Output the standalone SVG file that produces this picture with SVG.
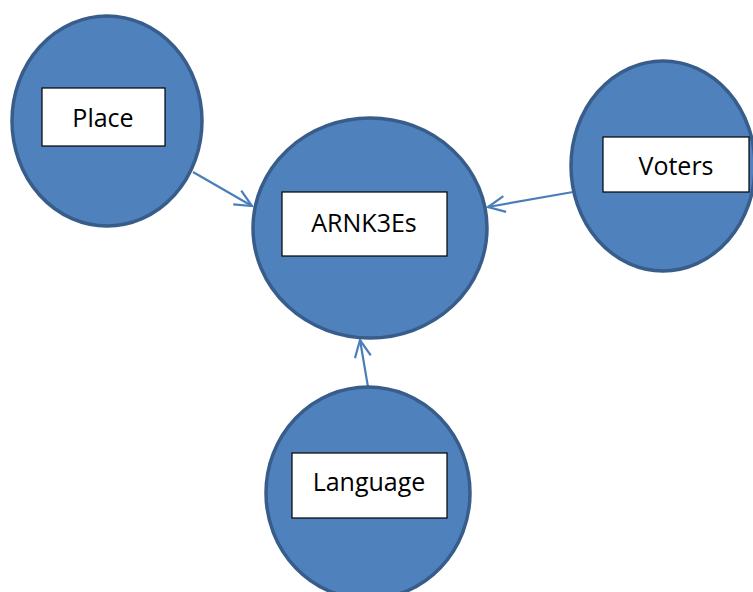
<svg xmlns="http://www.w3.org/2000/svg" width="753" height="592" viewBox="0 0 753 592">
<style>
.node ellipse{fill:#4F81BD;stroke:#385D8A;stroke-width:3.5}
.node rect{fill:#FFFFFF;stroke:#000000;stroke-width:1.2}
.node text{font-family:"Open Sans","Liberation Sans",sans-serif;font-size:25px;fill:#000000;text-anchor:middle}
.edge{stroke:#4A7EBB;stroke-width:2.2;fill:none}
</style>
<defs>
<marker id="arr" markerUnits="userSpaceOnUse" markerWidth="22" markerHeight="22" refX="18" refY="9" orient="auto" viewBox="0 0 22 18">
<path d="M1,1 L18,9 L1,17" fill="none" stroke="#4A7EBB" stroke-width="2.2"/>
</marker>
</defs>
<rect width="753" height="592" fill="#FFFFFF"/>
<g id="connectors">
<line class="edge" x1="193" y1="172" x2="252" y2="206" marker-end="url(#arr)"/>
<line class="edge" x1="573" y1="192" x2="488" y2="207" marker-end="url(#arr)"/>
<line class="edge" x1="368" y1="387" x2="360" y2="340" marker-end="url(#arr)"/>
</g>
<g id="node-place" class="node">
<ellipse cx="107" cy="121" rx="95" ry="105"/>
<rect x="42" y="88" width="123" height="58"/>
<text x="103" y="127">Place</text>
</g>
<g id="node-arnk3es" class="node">
<ellipse cx="370" cy="228" rx="117" ry="110"/>
<rect x="282" y="192" width="165" height="64"/>
<text x="364" y="232">ARNK3Es</text>
</g>
<g id="node-voters" class="node">
<ellipse cx="663" cy="166" rx="92" ry="105"/>
<rect x="603" y="137" width="146" height="55"/>
<text x="676" y="175">Voters</text>
</g>
<g id="node-language" class="node">
<ellipse cx="368" cy="493" rx="102" ry="106"/>
<rect x="292" y="453" width="155" height="65"/>
<text x="369" y="491">Language</text>
</g>
</svg>
